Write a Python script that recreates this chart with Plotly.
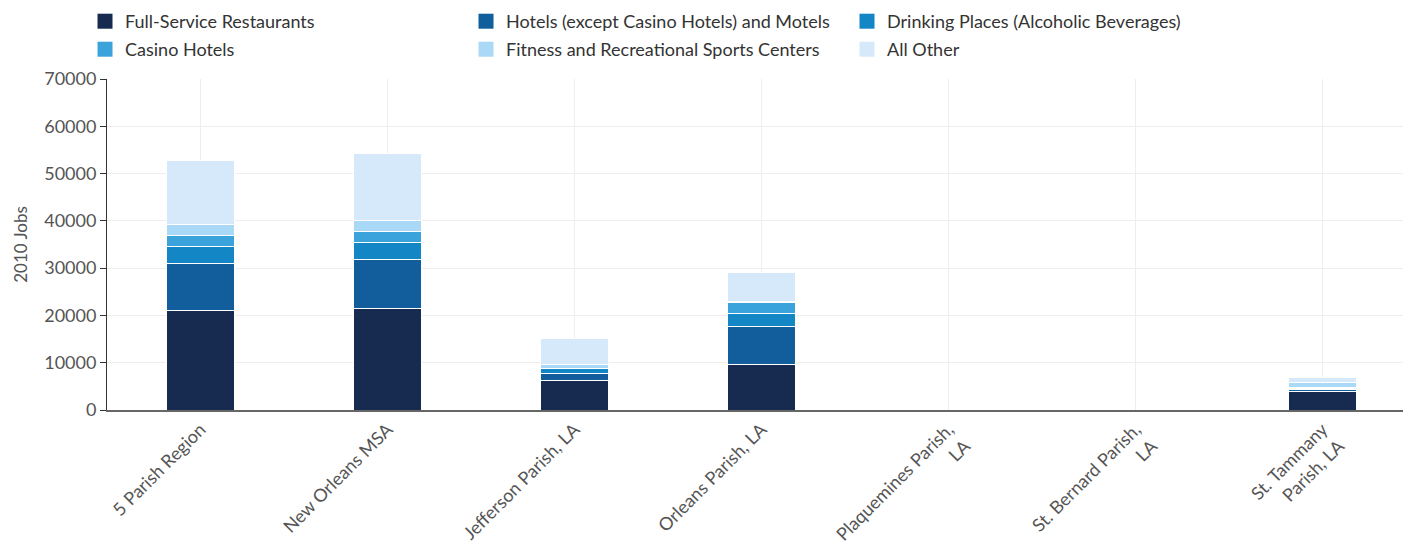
import plotly.graph_objects as go

categories = ["5 Parish Region", "New Orleans MSA", "Jefferson Parish, LA", "Orleans Parish, LA",
              "Plaquemines Parish,<br>LA", "St. Bernard Parish,<br>LA", "St. Tammany<br>Parish, LA"]

series_names = ["Full-Service Restaurants", "Hotels (except Casino Hotels) and Motels",
                "Drinking Places (Alcoholic Beverages)", "Casino Hotels",
                "Fitness and Recreational Sports Centers", "All Other"]

full_service = [21000, 21500, 6300, 9700, 0, 0, 4000]
hotels = [10000, 10400, 1500, 7900, 0, 0, 400]
drinking = [3500, 3500, 900, 2750, 0, 0, 200]
casino = [2300, 2400, 100, 2300, 0, 0, 100]
fitness = [2500, 2300, 800, 300, 0, 0, 1100]
all_other = [13500, 14100, 5500, 6100, 0, 0, 1100]

colors = ["#172A50", "#125E9D", "#1386C5", "#3AA3DC", "#AAD8F7", "#D5E9FB"]

values = [full_service, hotels, drinking, casino, fitness, all_other]

fig = go.Figure()
for i, (name, vals, col) in enumerate(zip(series_names, values, colors)):
    leg = "legend" if i < 3 else "legend2"
    fig.add_trace(go.Bar(x=categories, y=vals, name=name, legendgroup=name, showlegend=False,
                         marker=dict(color=col, line=dict(color="white", width=1))))
    # legend swatch (no data points)
    fig.add_trace(go.Scatter(x=[None], y=[None], mode="markers", name=name, legendgroup=name,
                             legend=leg, showlegend=True,
                             marker=dict(symbol="square", size=15, color=col)))

leg_common = dict(orientation="h", x=-0.0168, xanchor="left", yanchor="top",
                  traceorder="normal", entrywidth=336, entrywidthmode="pixels",
                  font=dict(size=18, color="#333333"), bgcolor="rgba(0,0,0,0)")

fig.update_layout(
    barmode="stack",
    bargap=0.64,
    width=1408, height=538,
    margin=dict(l=99, r=0, t=71, b=136, autoexpand=False),
    paper_bgcolor="white", plot_bgcolor="white",
    font=dict(family="Lato, 'Open Sans', sans-serif", size=16, color="#333333"),
    legend=dict(y=1.2296, **leg_common),
    legend2=dict(y=1.145, **leg_common),
    xaxis=dict(tickangle=-45, tickfont=dict(size=18, color="#555555"), showgrid=True,
               gridcolor="#EEEEEE", showline=True, linecolor="#666666", linewidth=2,
               ticks="", automargin=False),
    yaxis=dict(range=[0, 70000], dtick=10000, tickformat="d",
               tickfont=dict(size=18, color="#555555"),
               showgrid=True, gridcolor="#EEEEEE", showline=True, linecolor="#333333",
               ticks="outside", ticklen=6, tickcolor="#333333", automargin=False,
               title=dict(text="2010 Jobs", font=dict(size=17, color="#555555"), standoff=12),
               zeroline=False),
)

fig.write_html("out.html")
